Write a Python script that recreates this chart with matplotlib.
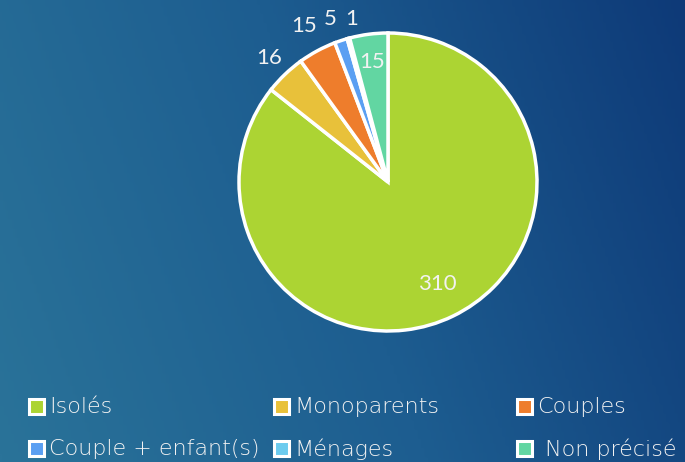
import numpy as np
import matplotlib.pyplot as plt
from matplotlib.colors import LinearSegmentedColormap
from matplotlib.patches import Rectangle

# données
categories = ['Isolés', 'Monoparents', 'Couples', 'Couple + enfant(s)', 'Ménages', 'Non précisé']
valeurs = [310, 16, 15, 5, 1, 15]
couleurs = ['#acd433', '#e8c13a', '#ee7d2c', '#5b9ff2', '#6ccbee', '#62d6a2']

plt.rcParams['font.family'] = ['Lato', 'DejaVu Sans']

W, H = 685, 462
fig = plt.figure(figsize=(W / 100, H / 100), dpi=100)

# fond dégradé
bg = fig.add_axes([0, 0, 1, 1])
xx, yy = np.meshgrid(np.linspace(0, 1, 200), np.linspace(0, 1, 200))
grad = 0.8 * xx + 0.2 * (1 - yy)
cmap = LinearSegmentedColormap.from_list('fond', ['#2a7399', '#1d5d90', '#0e3a78'])
bg.imshow(grad, cmap=cmap, aspect='auto', extent=[0, W, H, 0], origin='upper')
bg.set_xlim(0, W)
bg.set_ylim(H, 0)
bg.axis('off')

# camembert
cx, cy, r = 388, 182, 149
ax = fig.add_axes([(cx - r) / W, 1 - (cy + r) / H, 2 * r / W, 2 * r / H])
wedges, _ = ax.pie(valeurs, colors=couleurs, startangle=90, counterclock=False,
                   wedgeprops=dict(edgecolor='white', linewidth=2.5))
ax.set_xlim(-1, 1)
ax.set_ylim(-1, 1)
ax.set_aspect('equal')
ax.axis('off')

rayons = [0.76, 1.15, 1.19, 1.16, 1.12, 0.81]
decal = [0, 0, 0, 1, -3, 0]  # petit décalage en degrés pour 5 et 1
for w, v, rr, d in zip(wedges, valeurs, rayons, decal):
    ang = np.deg2rad((w.theta1 + w.theta2) / 2 + d)
    ax.text(rr * np.cos(ang), rr * np.sin(ang), str(v), ha='center', va='center',
            color='#f2f2f2', fontsize=16, clip_on=False)

# légende
pos = [(37, 406), (282, 406), (525, 406), (37, 448), (282, 448), (525, 448)]
for (x, y), nom, c in zip(pos, categories, couleurs):
    bg.add_patch(Rectangle((x - 7.5, y - 7.5), 15, 15, facecolor=c, edgecolor='white', linewidth=2.2))
    dx = 20 if nom == 'Non précisé' else 12
    bg.text(x + dx, y + 1, nom, ha='left', va='center', color='#f2f2f2', fontsize=16,
            family=['DejaVu Sans'], fontweight='light')

fig.savefig('out.png', dpi=100)
